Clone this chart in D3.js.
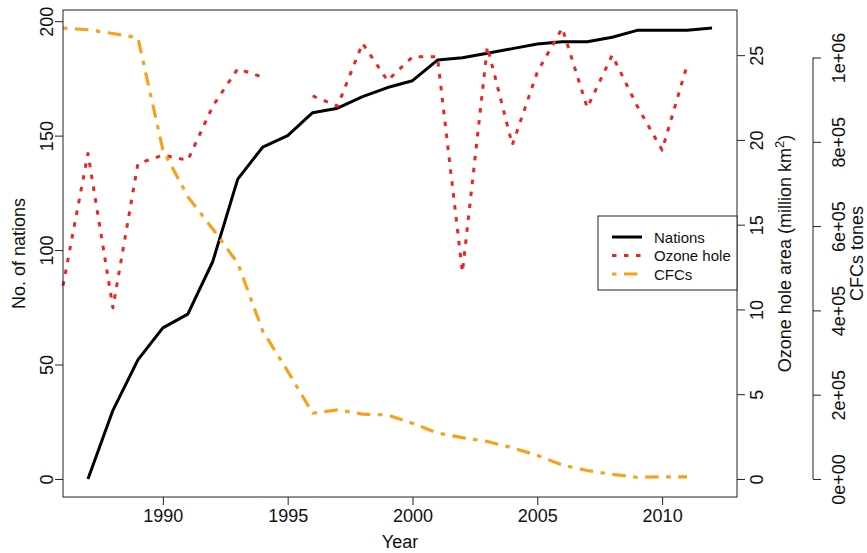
<!DOCTYPE html>
<html>
<head>
<meta charset="utf-8">
<script src="https://cdn.jsdelivr.net/npm/d3@7"></script>
<style>
  body { margin: 0; background: #fff; }
  svg { font-family: "Liberation Sans", Arial, sans-serif; }
</style>
</head>
<body>
<svg id="chart" width="867" height="553"></svg>
<script>
// data (null = no value)
var years   = [1986, 1987, 1988, 1989, 1990, 1991, 1992, 1993, 1994, 1995, 1996, 1997, 1998, 1999,
               2000, 2001, 2002, 2003, 2004, 2005, 2006, 2007, 2008, 2009, 2010, 2011, 2012];
var nations = [null, 0, 30, 52, 66, 72, 95, 131, 145, 150, 160, 162, 167, 171,
               174, 183, 184, 186, 188, 190, 191, 191, 193, 196, 196, 196, 197];
var ozone   = [11.4, 19.2, 10.1, 18.6, 19.1, 18.8, 22.0, 24.2, 23.7, null, 22.6, 22.0, 25.7, 23.5,
               24.9, 24.9, 12.2, 25.5, 19.7, 24.0, 26.6, 21.9, 25.0, 22.0, 19.4, 24.4, null];
var cfcs    = [1070000, 1066000, 1057000, 1047000, 781000, 670000, 593000, 512000, 351000, 256000,
               156000, 164000, 154000, 152000, 132000, 109000, 98000, 89000, 74000, 56000,
               33000, 20000, 11000, 4000, 5000, 5000, null];
var xTicks  = [1990, 1995, 2000, 2005, 2010];
var cfcTicks = [0, 200000, 400000, 600000, 800000, 1000000];
var legendNames = ["Nations", "Ozone hole", "CFCs"];

var svg = d3.select("#chart");
var box = { left: 63, right: 737, top: 10, bottom: 497 };

// R style 4% padding
function pad(lo, hi) {
    var r = hi - lo;
    return [lo - 0.04 * r, hi + 0.04 * r];
}

var x = d3.scaleLinear()
    .domain([d3.min(years), d3.max(years) + 1])
    .range([box.left, box.right]);
var yN = d3.scaleLinear().domain(pad(0, d3.max(nations))).range([box.bottom, box.top]);
var yO = d3.scaleLinear().domain(pad(0, d3.max(ozone))).range([box.bottom, box.top]);
var yC = d3.scaleLinear().domain(pad(0, d3.max(cfcs))).range([box.bottom, box.top]);

var series = [
    { vals: nations, y: yN, color: "#000", width: 3, dash: null },
    { vals: ozone, y: yO, color: "#ec2424", width: 3, dash: "4.5,7.5" },
    { vals: cfcs, y: yC, color: "#f7a11c", width: 3.2, dash: "4.5,7.5,13.5,7.5" }
];

// lines
series.forEach(function (s) {
    var line = d3.line()
        .defined(function (d, i) { return s.vals[i] !== null; })
        .x(function (d) { return x(d); })
        .y(function (d, i) { return s.y(s.vals[i]); });
    svg.append("path")
        .datum(years)
        .attr("fill", "none")
        .attr("stroke", s.color)
        .attr("stroke-width", s.width)
        .attr("stroke-dasharray", s.dash)
        .attr("stroke-linejoin", "round")
        .attr("d", line);
});

// plot frame
svg.append("rect")
    .attr("x", box.left).attr("y", box.top)
    .attr("width", box.right - box.left).attr("height", box.bottom - box.top)
    .attr("fill", "none").attr("stroke", "#222").attr("stroke-width", 1);

function styleAxis(g) {
    g.select(".domain").remove();
    g.selectAll(".tick line").attr("stroke", "#222");
    g.selectAll(".tick text").attr("fill", "#111").style("font-size", "18px");
}

// bottom axis
svg.append("g")
    .attr("transform", "translate(0," + box.bottom + ")")
    .call(d3.axisBottom(x).tickValues(xTicks).tickFormat(d3.format("d")).tickSize(8))
    .call(styleAxis)
    .selectAll(".tick text").attr("y", 24.5).attr("dy", 0);

// left axis
svg.append("g")
    .attr("transform", "translate(" + box.left + ",0)")
    .call(d3.axisLeft(yN).tickValues([0, 50, 100, 150, 200]).tickSize(8))
    .call(styleAxis)
    .selectAll(".tick text")
    .attr("transform", "rotate(-90)")
    .attr("x", 0).attr("y", -10).attr("dy", 0)
    .attr("text-anchor", "middle");

// ozone axis
svg.append("g")
    .attr("transform", "translate(" + box.right + ",0)")
    .call(d3.axisRight(yO).tickValues([0, 5, 10, 15, 20, 25]).tickSize(8))
    .call(styleAxis)
    .selectAll(".tick text")
    .attr("transform", "rotate(-90)")
    .attr("x", 0).attr("y", 26).attr("dy", 0)
    .attr("text-anchor", "middle");

// CFC axis
var cfcX = 813;
var gC = svg.append("g")
    .attr("transform", "translate(" + cfcX + ",0)")
    .call(d3.axisRight(yC).tickValues(cfcTicks).tickSize(8)
        .tickFormat(function (d) { return d3.format(".0e")(d).replace(/e([+-])(\d)$/, "e$10$2"); }))
    .call(styleAxis);
gC.selectAll(".tick text")
    .attr("transform", "rotate(-90)")
    .attr("x", 0).attr("y", 32).attr("dy", 0)
    .attr("text-anchor", "middle");
gC.append("line")
    .attr("y1", yC(d3.min(cfcTicks))).attr("y2", yC(d3.max(cfcTicks)))
    .attr("stroke", "#222");

// axis titles
var midY = (box.top + box.bottom) / 2;
svg.append("text")
    .attr("x", (box.left + box.right) / 2).attr("y", 548)
    .attr("text-anchor", "middle").style("font-size", "18px").attr("fill", "#111")
    .text("Year");
svg.append("text")
    .attr("transform", "translate(24.5," + midY + ") rotate(-90)")
    .attr("text-anchor", "middle").style("font-size", "18px").attr("fill", "#111")
    .text("No. of nations");
var oz = svg.append("text")
    .attr("transform", "translate(791," + midY + ") rotate(-90)")
    .attr("text-anchor", "middle").style("font-size", "18px").attr("fill", "#111");
oz.append("tspan").text("Ozone hole area (million km");
oz.append("tspan").attr("dy", -7).style("font-size", "13px").text("2");
oz.append("tspan").attr("dy", 7).text(")");
svg.append("text")
    .attr("transform", "translate(863," + midY + ") rotate(-90)")
    .attr("text-anchor", "middle").style("font-size", "18px").attr("fill", "#111")
    .text("CFCs tones");

// legend
var lg = svg.append("g").attr("transform", "translate(598,216)");
lg.append("rect")
    .attr("width", 139).attr("height", 74)
    .attr("fill", "#fff").attr("stroke", "#222");
var rows = lg.selectAll(".row")
    .data(legendNames)
    .enter().append("g")
    .attr("transform", function (d, i) { return "translate(0," + (21 + i * 18.5) + ")"; });
rows.append("line")
    .attr("x1", 14).attr("x2", 44)
    .attr("stroke", function (d, i) { return series[i].color; })
    .attr("stroke-width", function (d, i) { return series[i].width; })
    .attr("stroke-dasharray", function (d, i) { return series[i].dash; });
rows.append("text")
    .attr("x", 56).attr("y", 5.5)
    .style("font-size", "15px").attr("fill", "#111")
    .text(function (d) { return d; });
</script>
</body>
</html>
